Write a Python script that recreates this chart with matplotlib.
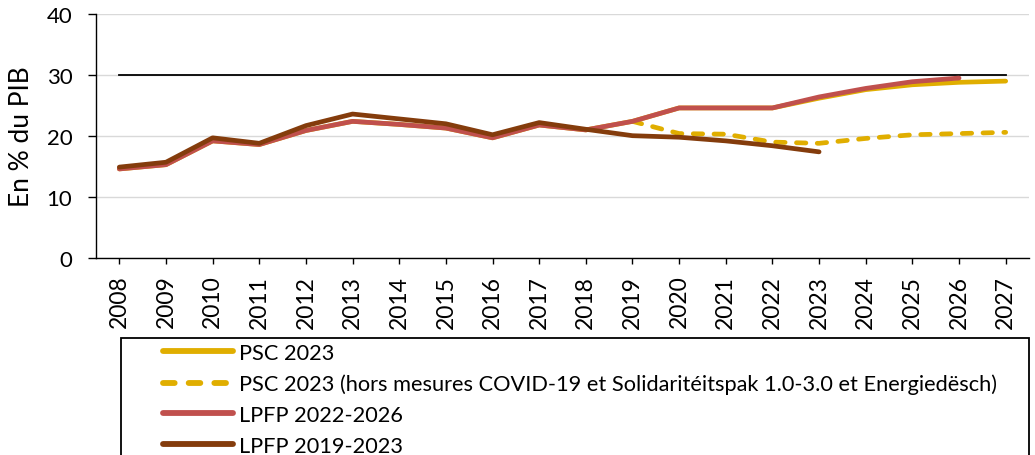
import matplotlib
matplotlib.use("Agg")
import matplotlib.pyplot as plt
from matplotlib.patches import Rectangle

years = [str(y) for y in range(2008, 2028)]

psc_2023 = [14.6, 15.3, 19.2, 18.6, 20.9, 22.4, 21.9, 21.3, 19.7, 21.8, 21.0, 22.4,
            24.6, 24.6, 24.6, 26.2, 27.6, 28.4, 28.8, 29.0]
psc_2023_hors = [None] * 11 + [22.4, 20.4, 20.3, 19.0, 18.8, 19.6, 20.2, 20.4, 20.6]
lpfp_2022_2026 = [14.6, 15.3, 19.2, 18.6, 20.9, 22.4, 21.9, 21.3, 19.7, 21.8, 21.0, 22.4,
                  24.6, 24.6, 24.6, 26.4, 27.8, 28.9, 29.5, None]
lpfp_2019_2023 = [14.9, 15.7, 19.7, 18.8, 21.7, 23.6, 22.8, 22.0, 20.2, 22.2, 21.1, 20.05,
                  19.8, 19.2, 18.4, 17.4, None, None, None, None]
threshold = [30] * len(years)

labels = ["PSC 2023",
          "PSC 2023 (hors mesures COVID-19 et Solidaritéitspak 1.0-3.0 et Energiedësch)",
          "LPFP 2022-2026",
          "LPFP 2019-2023"]

c_yellow = "#E0AE00"
c_red = "#C0504D"
c_brown = "#843C0C"

plt.rcParams['font.family'] = ['Lato', 'DejaVu Sans']

W, H = 1035, 456
fig = plt.figure(figsize=(W / 100, H / 100), dpi=100)
ax = fig.add_axes([96 / W, 1 - 259 / H, (1029 - 96) / W, (259 - 15) / H])

x = list(range(len(years)))

def clean(vals):
    xs = [i for i, v in zip(x, vals) if v is not None]
    ys = [v for v in vals if v is not None]
    return xs, ys

ax.plot(x, threshold, color="black", lw=1.3, zorder=2)
l1, = ax.plot(*clean(psc_2023), color=c_yellow, lw=3.4, solid_capstyle='round', zorder=3)
l2, = ax.plot(*clean(psc_2023_hors), color=c_yellow, lw=3.4, ls=(0, (2.0, 2.4)),
              dash_capstyle='round', zorder=4)
l3, = ax.plot(*clean(lpfp_2022_2026), color=c_red, lw=3.4, solid_capstyle='round', zorder=5)
l4, = ax.plot(*clean(lpfp_2019_2023), color=c_brown, lw=3.4, solid_capstyle='round', zorder=6)

ax.set_xlim(-0.5, len(years) - 0.5)
ax.set_ylim(0, 40)
ax.set_yticks([0, 10, 20, 30, 40])
ax.set_xticks(x)
ax.set_xticklabels(years, rotation=90)
ax.yaxis.grid(True, color="#D9D9D9", lw=1.0)
ax.set_axisbelow(True)
for s in ["top", "right"]:
    ax.spines[s].set_visible(False)
for s in ["left", "bottom"]:
    ax.spines[s].set_color("black")
    ax.spines[s].set_linewidth(1.0)
ax.tick_params(axis='y', length=6, width=1, pad=11, labelsize=16)
ax.tick_params(axis='x', length=4, width=1, pad=8, labelsize=16.5)
ax.set_ylabel("En % du PIB", fontsize=19)
ax.yaxis.set_label_coords(-62 / 933, 0.5)

# legend frame
fig.patches.append(Rectangle((121 / W, -0.1), (1029 - 121) / W, (H - 339) / H + 0.1,
                             transform=fig.transFigure, fill=False, edgecolor="black",
                             lw=1.3, zorder=1))
fs = 15.7
leg = fig.legend([l1, l2, l3, l4], labels, loc="upper left",
                 bbox_to_anchor=(163 / W, 1 - 344 / H), frameon=False,
                 fontsize=fs, handlelength=3.2, handletextpad=0.3,
                 labelspacing=0.49, borderpad=0, borderaxespad=0)
for h in leg.legend_handles:
    h.set_linewidth(4.2)

fig.savefig("out.png", dpi=100)
